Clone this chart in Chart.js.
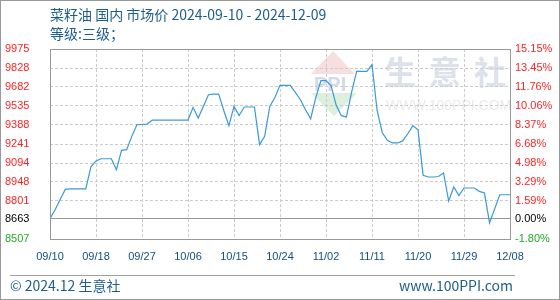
<!DOCTYPE html>
<html>
<head>
<meta charset="utf-8">
<script src="https://cdn.jsdelivr.net/npm/chart.js@4.4.1/dist/chart.umd.min.js"></script>
<style>
  html, body { margin: 0; padding: 0; background: #fff; }
  #wrap { width: 560px; height: 300px; }
</style>
</head>
<body>
<div id="wrap"><canvas id="price-chart" width="560" height="300"></canvas></div>
<script>
const titleText = '菜籽油 国内 市场价 2024-09-10 - 2024-12-09';
const gradeText = '等级:三级；';
const footerLeft = '© 2024.12 生意社';
const footerRight = 'www.100PPI.com';

// daily price, 09/10 .. 12/09 (yuan/t)
const prices = [
  8663, 8733, 8814, 8890, 8894, 8894, 8894, 8894, 9065, 9110,
  9127, 9127, 9127, 9042, 9192, 9197, 9300, 9390, 9392, 9395,
  9426, 9426, 9426, 9426, 9426, 9426, 9426, 9426, 9524, 9442,
  9531, 9622, 9627, 9627, 9500, 9382, 9531, 9460, 9527, 9527,
  9527, 9236, 9300, 9531, 9600, 9694, 9694, 9694, 9640, 9583,
  9506, 9436, 9600, 9730, 9730, 9690, 9540, 9460, 9450, 9640,
  9802, 9802, 9802, 9854, 9500, 9330, 9270, 9249, 9249, 9265,
  9320, 9382, 9350, 9000, 8986, 8986, 8990, 9017, 8800, 8909,
  8842, 8901, 8901, 8901, 8875, 8862, 8631, 8740, 8849, 8849,
  8849
];

const xTickPos = [0, 9, 18, 27, 36, 45, 54, 63, 72, 81, 90];
const xTickLabels = ['09/10', '09/18', '09/27', '10/06', '10/15', '10/24', '11/02', '11/11', '11/20', '11/29', '12/08'];

const basePrice = 8663;
const yTicks = [8507, 8663, 8801, 8948, 9094, 9241, 9388, 9535, 9682, 9828, 9975];
const pctLabels = ['-1.80%', '0.00%', '1.59%', '3.29%', '4.98%', '6.68%', '8.37%', '10.06%', '11.76%', '13.45%', '15.15%'];

const tickColor = (value) => {
  if (value === basePrice) return '#000000';
  return value < basePrice ? '#22aa22' : '#ff2222';
};

const decorations = {
  id: 'decorations',
  beforeDraw(chart) {
    const c = chart.ctx;
    c.save();
    c.fillStyle = '#ffffff';
    c.fillRect(0, 0, chart.width, chart.height);

    // watermark logo
    c.fillStyle = '#f7dfdf';
    c.beginPath();
    c.moveTo(333, 51);
    c.lineTo(355, 74);
    c.lineTo(311, 74);
    c.closePath();
    c.fill();
    c.fillStyle = '#ddefdd';
    c.beginPath();
    c.moveTo(311, 93);
    c.lineTo(357, 93);
    c.lineTo(334, 116);
    c.closePath();
    c.fill();
    c.fillStyle = '#d3dae9';
    c.font = 'bold 20px "Liberation Sans"';
    c.textBaseline = 'middle';
    c.textAlign = 'left';
    c.fillText('PPI', 314, 85);

    c.fillStyle = '#dde1ec';
    c.font = 'bold 32px "Noto Sans CJK SC"';
    ['生', '意', '社'].forEach((ch, i) => c.fillText(ch, 384 + i * 45, 72));
    c.fillStyle = '#eaeaea';
    c.font = '14px "Liberation Sans"';
    c.fillText('WWW.100PPI.COM', 386, 106);
    c.restore();
  },
  afterDraw(chart) {
    const c = chart.ctx;
    const a = chart.chartArea;
    c.save();
    c.strokeStyle = '#999999';
    c.lineWidth = 1;
    c.strokeRect(Math.round(a.left) + 0.5, Math.round(a.top) + 0.5, Math.round(a.right - a.left), Math.round(a.bottom - a.top));

    c.fillStyle = '#1d5d8c';
    c.textBaseline = 'middle';
    c.textAlign = 'left';
    c.font = '14px "Noto Sans CJK SC"';
    c.fillText(titleText, 50, 15);
    c.fillText(gradeText, 50, 34);

    c.beginPath();
    c.moveTo(10, 275.5);
    c.lineTo(515, 275.5);
    c.strokeStyle = '#a0a0a0';
    c.stroke();

    c.fillText(footerLeft, 10, 286);
    c.textAlign = 'right';
    c.fillText(footerRight, 513, 286);

    c.strokeStyle = '#999999';
    c.strokeRect(0.5, 0.5, chart.width - 1, chart.height - 1);
    c.restore();
  },
};

const labelFont = { family: 'Liberation Sans', size: 11 };

new Chart(document.getElementById('price-chart'), {
  type: 'line',
  data: {
    datasets: [
      {
        data: prices.map((v, i) => ({ x: i, y: v })),
        borderColor: '#3a9ad9',
        borderWidth: 1.2,
        pointRadius: 0,
        tension: 0,
        fill: false,
      },
    ],
  },
  options: {
    responsive: false,
    animation: false,
    layout: { padding: { top: 49, left: 5, right: 0, bottom: 0 } },
    plugins: {
      legend: { display: false },
      tooltip: { enabled: false },
    },
    scales: {
      x: {
        type: 'linear',
        min: 0,
        max: 90,
        afterBuildTicks: (s) => { s.ticks = xTickPos.map((v) => ({ value: v })); },
        afterFit: (s) => { s.height = 61; },
        ticks: {
          autoSkip: false,
          maxRotation: 0,
          padding: 11,
          color: '#134f80',
          font: labelFont,
          callback: (v, i) => xTickLabels[i],
        },
        grid: { color: '#cccccc', drawTicks: false },
        border: { display: false, dash: [3, 2] },
      },
      y: {
        position: 'left',
        min: 8507,
        max: 9975,
        afterBuildTicks: (s) => { s.ticks = yTicks.map((v) => ({ value: v })); },
        afterFit: (s) => { s.width = 45; },
        ticks: {
          autoSkip: false,
          crossAlign: 'far',
          color: (ctx) => tickColor(ctx.tick.value),
          font: labelFont,
          callback: (v) => String(v),
        },
        grid: {
          drawTicks: false,
          color: (ctx) => (ctx.tick && ctx.tick.value === basePrice ? '#999999' : '#cccccc'),
        },
        border: {
          display: false,
          dash: (ctx) => (ctx.tick && ctx.tick.value === basePrice ? [] : [3, 2]),
        },
      },
      y1: {
        position: 'right',
        min: 8507,
        max: 9975,
        afterBuildTicks: (s) => { s.ticks = yTicks.map((v) => ({ value: v })); },
        afterFit: (s) => { s.width = 50; },
        ticks: {
          autoSkip: false,
          crossAlign: 'near',
          padding: 5,
          color: (ctx) => tickColor(ctx.tick.value),
          font: labelFont,
          callback: (v, i) => pctLabels[i],
        },
        grid: { display: false, drawTicks: false },
        border: { display: false },
      },
    },
  },
  plugins: [decorations],
});
</script>
</body>
</html>
